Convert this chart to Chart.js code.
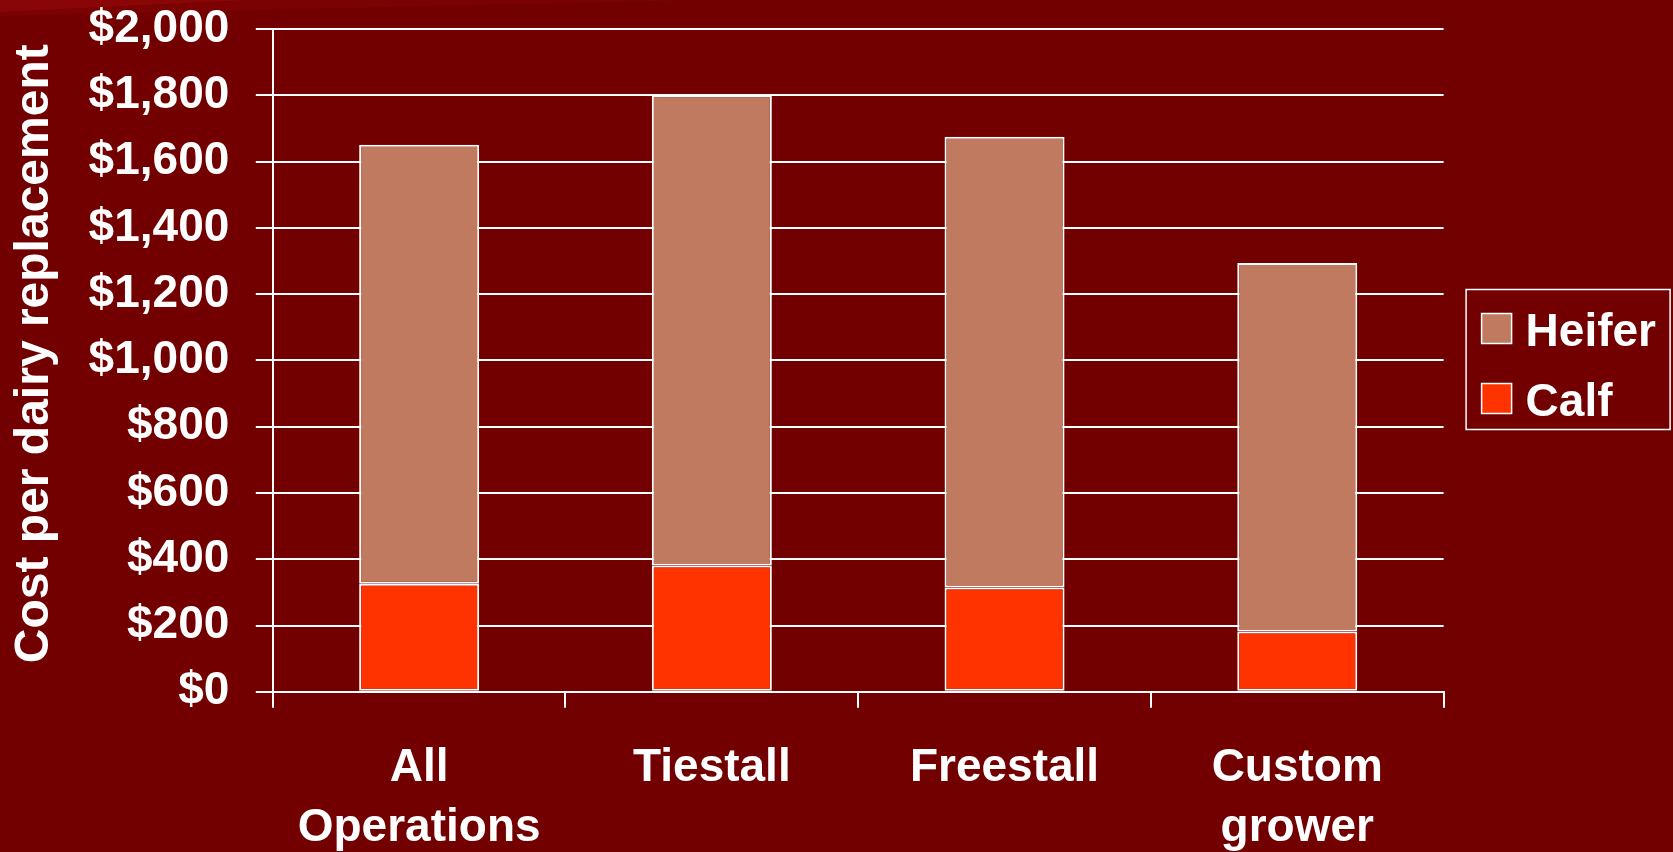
<!DOCTYPE html>
<html><head><meta charset="utf-8">
<script src="https://cdn.jsdelivr.net/npm/chart.js@4/dist/chart.umd.min.js"></script>
<style>
html,body{margin:0;padding:0;background:#720000;overflow:hidden;width:1673px;height:852px;}
#wrap{position:relative;width:1673px;height:852px;overflow:hidden;}
#deco{position:absolute;left:0;top:0;width:700px;height:40px;background:#8a0505;clip-path:polygon(0 0,250px 0,0 12px);}
#deco2{position:absolute;left:0;top:0;width:700px;height:40px;background:#7a0202;clip-path:polygon(250px 0,700px 0,0 16px,0 12px);}
canvas{position:absolute;left:0;top:0;}
</style></head><body>
<div id="wrap"><div id="deco2"></div><div id="deco"></div><canvas id="c" width="1673" height="858"></canvas></div>
<script>
const categories = [['All','Operations'], 'Tiestall', 'Freestall', ['Custom','grower']];
const calfCost = [326, 381, 315, 182];
const heiferCost = [1325, 1419, 1360, 1112];
const yMin = 0, yMax = 2000, yStep = 200;
const seriesNames = ['Calf', 'Heifer'];
const seriesColors = ['#FF3300', '#C07A60'];

const FONT = '"Liberation Sans", Arial, Helvetica, sans-serif';
Chart.defaults.font.family = FONT;
Chart.defaults.color = '#ffffff';

const boxLegend = {
  id: 'boxLegend',
  afterDraw(chart) {
    const ctx = chart.ctx, ca = chart.chartArea;
    const left = ca.right + 22.5, w = 204, h = 140;
    const top = Math.round((ca.top + ca.bottom) / 2 - h / 2) - 0.5;
    ctx.save();
    ctx.strokeStyle = '#ffffff'; ctx.lineWidth = 1.5;
    ctx.strokeRect(left, top, w, h);
    const order = [1, 0];
    order.forEach((di, i) => {
      const ds = chart.data.datasets[di];
      const by = top + 24 + i * 70;
      ctx.fillStyle = ds.backgroundColor;
      ctx.fillRect(left + 15.5, by, 30, 30);
      ctx.strokeStyle = '#ffffff'; ctx.lineWidth = 1.5;
      ctx.strokeRect(left + 15.5, by, 30, 30);
      ctx.fillStyle = '#ffffff';
      ctx.font = 'bold 46px ' + FONT;
      ctx.textBaseline = 'alphabetic';
      ctx.textAlign = 'left';
      ctx.fillText(ds.label, left + 59.5, by + 32);
    });
    ctx.restore();
  }
};

// Chart.js counts tick padding twice when sizing an axis; undo the extra copy
function undoDoublePadding(scale) {
  const p = scale.options.ticks.padding;
  if (scale.isHorizontal()) {
    scale.height -= p;
    scale.paddingLeft = 0; scale.paddingRight = 0;
  } else {
    scale.width -= p;
    scale.paddingTop = 0; scale.paddingBottom = 0;
  }
}

new Chart(document.getElementById('c'), {
  type: 'bar',
  data: {
    labels: categories,
    datasets: [
      { label: seriesNames[0], data: calfCost, backgroundColor: seriesColors[0], borderColor: '#ffffff', borderWidth: 2, borderSkipped: false },
      { label: seriesNames[1], data: heiferCost, backgroundColor: seriesColors[1], borderColor: '#ffffff', borderWidth: 2, borderSkipped: false }
    ]
  },
  options: {
    responsive: false,
    animation: false,
    devicePixelRatio: 1,
    categoryPercentage: 1,
    barPercentage: 0.41,
    layout: { padding: { top: 29, right: 229.4, left: 0, bottom: 0 } },
    plugins: { legend: { display: false }, tooltip: { enabled: false } },
    scales: {
      x: {
        stacked: true,
        offset: true,
        afterFit: undoDoublePadding,
        grid: { offset: true, drawOnChartArea: false, drawTicks: true, tickLength: 16, color: '#ffffff', lineWidth: 2 },
        border: { display: true, color: '#ffffff', width: 2 },
        ticks: { color: '#ffffff', font: { size: 46, weight: 'bold', lineHeight: 1.3 }, padding: 30.6, maxRotation: 0, autoSkip: false }
      },
      y: {
        stacked: true,
        min: yMin, max: yMax,
        afterFit: undoDoublePadding,
        grid: { color: '#ffffff', lineWidth: 2, tickLength: 17, drawTicks: true },
        border: { display: true, color: '#ffffff', width: 2 },
        ticks: { stepSize: yStep, color: '#ffffff', font: { size: 46, weight: 'bold', lineHeight: 1.2 }, padding: 26.5,
                 callback: v => '$' + Number(v).toLocaleString('en-US') },
        title: { display: true, text: '\u00A0Cost per dairy replacement', color: '#ffffff',
                 font: { size: 48, weight: 'bold', lineHeight: 1.2 }, padding: { top: 6, bottom: 25 } }
      }
    }
  },
  plugins: [boxLegend]
});
</script>
</body></html>
